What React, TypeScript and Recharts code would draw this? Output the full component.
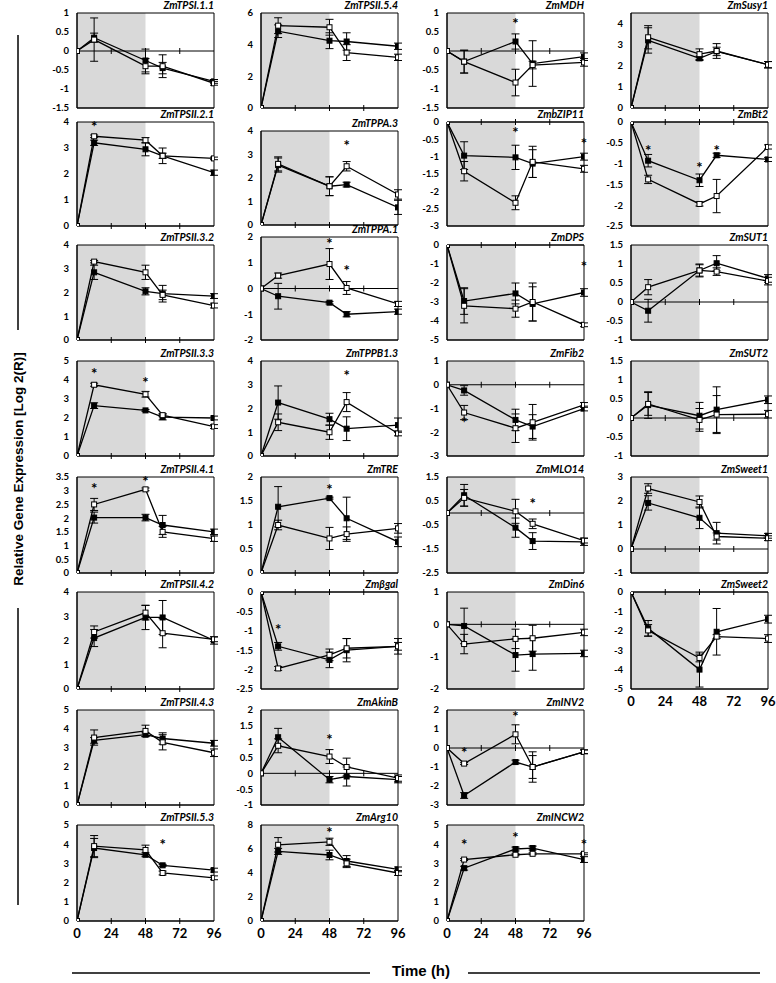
import { LineChart, Line, XAxis, YAxis, ErrorBar, ReferenceArea, ReferenceLine, ReferenceDot } from "recharts";

const hours = [0, 12, 48, 60, 96];
const xTicks = [0, 24, 48, 72, 96];

// panels listed column by column, top to bottom
const genes = [
  "ZmTPSI.1.1", "ZmTPSII.2.1", "ZmTPSII.3.2", "ZmTPSII.3.3", "ZmTPSII.4.1", "ZmTPSII.4.2", "ZmTPSII.4.3", "ZmTPSII.5.3",
  "ZmTPSII.5.4", "ZmTPPA.3", "ZmTPPA.1", "ZmTPPB1.3", "ZmTRE", "Zmβgal", "ZmAkinB", "ZmArg10",
  "ZmMDH", "ZmbZIP11", "ZmDPS", "ZmFib2", "ZmMLO14", "ZmDin6", "ZmINV2", "ZmINCW2",
  "ZmSusy1", "ZmBt2", "ZmSUT1", "ZmSUT2", "ZmSweet1", "ZmSweet2",
];

const yDomains = [
  [-1.5, 1], [0, 4], [0, 4], [0, 5], [0, 3.5], [0, 4], [0, 5], [0, 5],
  [0, 6], [0, 4], [-2, 2], [0, 4], [0, 2], [-2.5, 0], [-1, 2], [0, 8],
  [-1.5, 1], [-3, 0], [-5, 0], [-3, 1], [-2.5, 1.5], [-2, 1], [-3, 2], [0, 5],
  [0, 4.5], [-2.5, 0], [-1, 1.5], [-1, 1.5], [-1, 3], [-5, 0],
];

const yTicks = [
  [-1.5, -1, -0.5, 0, 0.5, 1], [0, 1, 2, 3, 4], [0, 1, 2, 3, 4], [0, 1, 2, 3, 4, 5],
  [0, 0.5, 1, 1.5, 2, 2.5, 3, 3.5], [0, 1, 2, 3, 4], [0, 1, 2, 3, 4, 5], [0, 1, 2, 3, 4, 5],
  [0, 2, 4, 6], [0, 1, 2, 3, 4], [-2, -1, 0, 1, 2], [0, 1, 2, 3, 4],
  [0, 0.5, 1, 1.5, 2], [-2.5, -2, -1.5, -1, -0.5, 0], [-1, -0.5, 0, 0.5, 1, 1.5, 2], [0, 2, 4, 6, 8],
  [-1.5, -1, -0.5, 0, 0.5, 1], [-3, -2.5, -2, -1.5, -1, -0.5, 0], [-5, -4, -3, -2, -1, 0], [-3, -2, -1, 0, 1],
  [-2.5, -1.5, -0.5, 0.5, 1.5], [-2, -1, 0, 1], [-3, -2, -1, 0, 1, 2], [0, 1, 2, 3, 4, 5],
  [0, 1, 2, 3, 4], [-2.5, -2, -1.5, -1, -0.5, 0], [-1, -0.5, 0, 0.5, 1, 1.5], [-1, -0.5, 0, 0.5, 1, 1.5],
  [-1, 0, 1, 2, 3], [-5, -4, -3, -2, -1, 0],
];

// filled squares
const filled = [
  [0, 0.35, -0.25, -0.45, -0.8], [0, 3.2, 2.95, 2.7, 2.05], [0, 2.85, 2.05, 1.95, 1.85], [0, 2.65, 2.4, 2.05, 2.0],
  [0, 2.02, 2.02, 1.75, 1.5], [0, 2.1, 2.95, 2.95, 2.0], [0, 3.4, 3.7, 3.5, 3.25], [0, 3.8, 3.45, 2.9, 2.65],
  [0, 4.85, 4.25, 4.2, 3.9], [0, 2.55, 1.65, 1.72, 0.75], [0, -0.3, -0.55, -1.0, -0.9], [0, 2.25, 1.55, 1.15, 1.3],
  [0, 1.38, 1.56, 1.14, 0.65], [0, -1.4, -1.75, -1.5, -1.4], [0, 1.14, -0.2, -0.1, -0.2], [0, 5.8, 5.5, 5.0, 4.3],
  [0, -0.28, 0.25, -0.33, -0.15], [0, -0.97, -1.02, -1.2, -1.0], [0, -2.95, -2.55, -3.1, -2.5], [0, -0.24, -1.48, -1.76, -1.0],
  [0, 0.74, -0.61, -1.17, -1.2], [0, -0.05, -0.95, -0.92, -0.9], [0, -2.5, -0.74, -1.0, -0.2], [0, 2.75, 3.75, 3.8, 3.2],
  [0, 3.2, 2.35, 2.68, 2.05], [0, -0.93, -1.4, -0.8, -0.9], [0, -0.23, 0.83, 1.02, 0.62], [0, 0.34, 0.06, 0.22, 0.48],
  [0, 1.92, 1.3, 0.66, 0.55], [0, -1.87, -4.0, -2.05, -1.4],
];
const filledErr = [
  [0, 0.12, 0.3, 0.15, 0.05], [0, 0.1, 0.25, 0.3, 0.1], [0, 0.3, 0.15, 0.35, 0.1], [0, 0.15, 0.05, 0.15, 0.1],
  [0, 0.2, 0.12, 0.35, 0.1], [0, 0.35, 0.5, 0.7, 0.15], [0, 0.15, 0.1, 0.3, 0.15], [0, 0.5, 0.1, 0.05, 0.1],
  [0, 0.4, 0.5, 0.55, 0.2], [0, 0.3, 0.4, 0.1, 0.3], [0, 0.5, 0.05, 0.1, 0.1], [0, 0.7, 0.25, 0.5, 0.3],
  [0, 0.42, 0.02, 0.44, 0.1], [0, 0.1, 0.2, 0.3, 0.1], [0, 0.28, 0.1, 0.3, 0.1], [0, 0.25, 0.4, 0.45, 0.2],
  [0, 0.3, 0.2, 0.6, 0.1], [0, 0.4, 0.35, 0.4, 0.1], [0, 0.7, 0.55, 0.9, 0.2], [0, 0.2, 0.45, 0.5, 0.1],
  [0, 0.45, 0.4, 0.35, 0.15], [0, 0.55, 0.5, 0.5, 0.1], [0, 0.15, 0.1, 0.8, 0.1], [0, 0.1, 0.1, 0.1, 0.15],
  [0, 0.6, 0.1, 0.2, 0.15], [0, 0.15, 0.15, 0.05, 0.05], [0, 0.3, 0.15, 0.2, 0.1], [0, 0.35, 0.35, 0.6, 0.1],
  [0, 0.3, 0.45, 0.45, 0.1], [0, 0.4, 0.9, 1.2, 0.2],
];

// open squares
const open = [
  [0, 0.3, -0.4, -0.4, -0.85], [0, 3.45, 3.3, 2.7, 2.6], [0, 3.3, 2.85, 1.9, 1.45], [0, 3.75, 3.25, 2.15, 1.55],
  [0, 2.5, 3.05, 1.5, 1.25], [0, 2.35, 3.15, 2.3, 2.05], [0, 3.55, 3.9, 3.3, 2.75], [0, 3.9, 3.7, 2.5, 2.25],
  [0, 5.2, 5.1, 3.5, 3.2], [0, 2.6, 1.65, 2.5, 1.3], [0, 0.5, 0.95, 0.02, -0.6], [0, 1.42, 1.0, 2.27, 0.95],
  [0, 1.0, 0.72, 0.81, 0.93], [0, -1.97, -1.62, -1.45, -1.4], [0, 0.87, 0.53, 0.2, -0.15], [0, 6.35, 6.6, 4.8, 4.0],
  [0, -0.28, -0.83, -0.37, -0.3], [0, -1.42, -2.33, -1.15, -1.35], [0, -3.2, -3.35, -3.0, -4.2], [0, -1.17, -1.83, -1.58, -0.85],
  [0, 0.63, 0.07, -0.45, -1.15], [0, -0.61, -0.45, -0.43, -0.25], [0, -0.82, 0.72, -1.0, -0.2], [0, 3.2, 3.45, 3.5, 3.5],
  [0, 3.35, 2.55, 2.7, 2.05], [0, -1.38, -1.97, -1.78, -0.6], [0, 0.39, 0.83, 0.8, 0.55], [0, 0.37, -0.05, 0.09, 0.1],
  [0, 2.52, 1.96, 0.52, 0.45], [0, -1.98, -3.4, -2.3, -2.4],
];
const openErr = [
  [0, 0.57, 0.2, 0.3, 0.05], [0, 0.05, 0.1, 0.1, 0.05], [0, 0.05, 0.3, 0.2, 0.1], [0, 0.08, 0.15, 0.08, 0.1],
  [0, 0.22, 0.05, 0.2, 0.1], [0, 0.25, 0.3, 0.6, 0.1], [0, 0.4, 0.3, 0.4, 0.2], [0, 0.55, 0.25, 0.1, 0.1],
  [0, 0.5, 0.5, 0.5, 0.2], [0, 0.3, 0.4, 0.2, 0.2], [0, 0.1, 0.6, 0.25, 0.1], [0, 0.35, 0.3, 0.4, 0.1],
  [0, 0.1, 0.23, 0.15, 0.1], [0, 0.05, 0.15, 0.25, 0.2], [0, 0.22, 0.22, 0.28, 0.1], [0, 0.6, 0.3, 0.35, 0.2],
  [0, 0.3, 0.35, 0.1, 0.1], [0, 0.28, 0.2, 0.45, 0.1], [0, 0.9, 0.45, 1.0, 0.1], [0, 0.3, 0.6, 0.75, 0.1],
  [0, 0.35, 0.5, 0.2, 0.1], [0, 0.3, 0.3, 0.4, 0.1], [0, 0.05, 0.5, 0.6, 0.1], [0, 0.05, 0.05, 0.05, 0.05],
  [0, 0.55, 0.25, 0.35, 0.15], [0, 0.1, 0.05, 0.4, 0.05], [0, 0.2, 0.17, 0.1, 0.1], [0, 0.3, 0.3, 0.5, 0.1],
  [0, 0.2, 0.25, 0.15, 0.1], [0, 0.3, 0.2, 0.1, 0.2],
];

// significance asterisks [hour, value]
const stars = [
  [], [[12, 3.85]], [], [[12, 4.35], [48, 3.9]], [[12, 3.1], [48, 3.35]], [], [], [[60, 4.0]],
  [], [[60, 3.4]], [[48, 1.75], [60, 0.7]], [[60, 3.4]], [[48, 1.75]], [[12, -0.95]], [[48, 1.1]], [[48, 7.4]],
  [[48, 0.75]], [[48, -0.3], [96, -0.6]], [[96, -1.1]], [[12, -1.55]], [[60, 0.43]], [], [[12, -0.2], [48, 1.67]], [[12, 4.0], [48, 4.35], [96, 4.0]],
  [], [[12, -0.68], [48, -1.08], [60, -0.68]], [], [], [], [],
];

// layout
const colLeft = [77, 261, 447, 631];
const plotW = 137;
const rowTop = [13, 122, 245, 361, 477, 592, 710, 825];
const rowBottom = [108, 226, 340, 456, 573, 689, 805, 921];
const colRows = [8, 8, 8, 6];
const tickFont = "Lato, 'Open Sans', sans-serif";

function square(fill: string) {
  return (props: any) => {
    const { cx, cy, index } = props;
    if (cx == null || cy == null) return <g key={index} />;
    return <rect key={index} x={cx - 2.5} y={cy - 2.5} width={5} height={5} fill={fill} stroke="#000" strokeWidth={1} />;
  };
}

const tickMark = (props: any) => (
  <line x1={props.cx} y1={props.cy - 3} x2={props.cx} y2={props.cy + 3} stroke="#000" strokeWidth={1} />
);

const starMark = (props: any) => (
  <text x={props.cx} y={props.cy + 6} textAnchor="middle" fontSize={15} fontWeight={700} fontFamily={tickFont} fill="#000">
    *
  </text>
);

function Panel({ p, col, row }: { p: number; col: number; row: number }) {
  let top = rowTop[row];
  let bottom = rowBottom[row];
  // the middle column's 2nd and 3rd panels sit a little off the grid
  if (col === 1 && row === 1) {
    top = 131;
    bottom = 225;
  }
  if (col === 1 && row === 2) top = 237;
  const plotH = bottom - top;
  const showX = row === colRows[col] - 1;
  const xH = showX ? 24 : 1;
  const mt = 8;
  const mb = showX ? 0 : 7;
  const yW = 44;
  const [y0, y1] = yDomains[p];
  const data = hours.map((t, i) => ({
    t,
    f: filled[p][i],
    fe: filledErr[p][i],
    o: open[p][i],
    oe: openErr[p][i],
  }));

  return (
    <>
      <div
        style={{
          position: "absolute",
          left: colLeft[col] - 20,
          width: plotW + 20,
          top: top - 14,
          textAlign: "right",
          fontFamily: tickFont,
          fontWeight: 700,
          fontStyle: "italic",
          fontSize: 10.5,
          lineHeight: "12px",
          whiteSpace: "nowrap",
        }}
      >
        {genes[p]}
      </div>
      <div style={{ position: "absolute", left: colLeft[col] - yW - 2, top: top - mt }}>
        <LineChart
          width={yW + 2 + plotW + 12}
          height={plotH + mt + xH + mb}
          data={data}
          margin={{ top: mt, right: 12, bottom: mb, left: 2 }}
        >
          <ReferenceArea x1={0} x2={48} y1={y0} y2={y1} fill="#d9d9d9" fillOpacity={1} stroke="none" />
          <ReferenceArea x1={0} x2={96} y1={y0} y2={y1} fill="none" fillOpacity={0} stroke="#000" strokeWidth={1} />
          {y0 < 0 && <ReferenceLine y={0} stroke="#000" strokeWidth={1} />}
          {xTicks.slice(1, 4).map((t) => (
            <ReferenceDot key={"tk" + t} x={t} y={0} r={3} shape={tickMark} />
          ))}
          <XAxis
            type="number"
            dataKey="t"
            domain={[0, 96]}
            ticks={xTicks}
            interval={0}
            height={xH}
            tickLine={false}
            axisLine={{ stroke: "#000" }}
            tick={showX ? { fontSize: 13, fontWeight: 700, fill: "#000", fontFamily: tickFont } : false}
            allowDataOverflow
          />
          <YAxis
            type="number"
            domain={[y0, y1]}
            ticks={yTicks[p]}
            interval={0}
            width={yW}
            tickLine={false}
            axisLine={{ stroke: "#000" }}
            tick={{ fontSize: 9.5, fontWeight: 700, fill: "#000", fontFamily: tickFont }}
            allowDataOverflow
          />
          <Line
            dataKey="f"
            stroke="#000"
            strokeWidth={1.3}
            dot={square("#000")}
            activeDot={false}
            isAnimationActive={false}
          >
            <ErrorBar dataKey="fe" direction="y" width={4} stroke="#000" strokeWidth={1} />
          </Line>
          <Line
            dataKey="o"
            stroke="#000"
            strokeWidth={1.3}
            dot={square("#fff")}
            activeDot={false}
            isAnimationActive={false}
          >
            <ErrorBar dataKey="oe" direction="y" width={4} stroke="#000" strokeWidth={1} />
          </Line>
          {stars[p].map(([t, v], i) => (
            <ReferenceDot key={"st" + i} x={t} y={v} r={3} shape={starMark} />
          ))}
        </LineChart>
      </div>
    </>
  );
}

export default function App() {
  const panels: { p: number; col: number; row: number }[] = [];
  let p = 0;
  colRows.forEach((n, col) => {
    for (let row = 0; row < n; row++) panels.push({ p: p++, col, row });
  });

  return (
    <div style={{ position: "fixed", left: 0, top: 0, width: 776, height: 983, background: "#fff", overflow: "hidden" }}>
      {panels.map((d) => (
        <Panel key={d.p} {...d} />
      ))}
      <svg width={776} height={983} style={{ position: "absolute", left: 0, top: 0, pointerEvents: "none" }}>
        <line x1={18} y1={35} x2={18} y2={330} stroke="#000" strokeWidth={1.5} />
        <line x1={18} y1={608} x2={18} y2={905} stroke="#000" strokeWidth={1.5} />
        <text
          x={0}
          y={0}
          transform="translate(23,469) rotate(-90)"
          textAnchor="middle"
          fontFamily="'Liberation Sans', Arial, sans-serif"
          fontWeight={700}
          fontSize={13.5}
          fill="#000"
        >
          Relative Gene Expression [Log 2(R)]
        </text>
        <line x1={72} y1={973} x2={370} y2={973} stroke="#000" strokeWidth={1.5} />
        <line x1={468} y1={973} x2={760} y2={973} stroke="#000" strokeWidth={1.5} />
        <text
          x={421}
          y={976}
          textAnchor="middle"
          fontFamily="'Liberation Sans', Arial, sans-serif"
          fontWeight={700}
          fontSize={15}
          fill="#000"
        >
          Time (h)
        </text>
      </svg>
    </div>
  );
}
